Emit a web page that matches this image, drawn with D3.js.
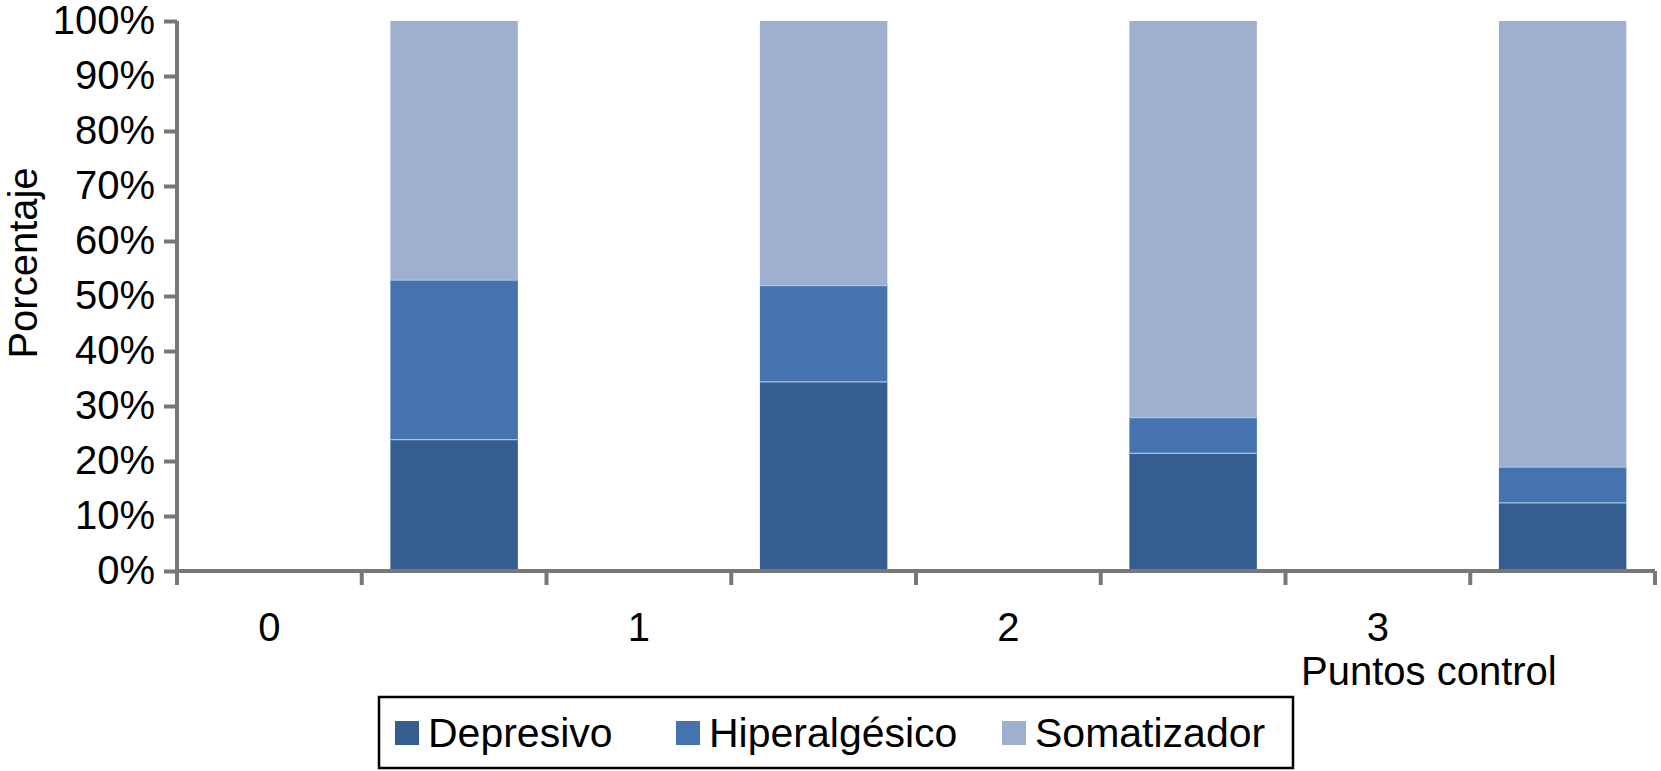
<!DOCTYPE html>
<html>
<head>
<meta charset="utf-8">
<script src="https://cdn.jsdelivr.net/npm/d3@7"></script>
<style>
  body { margin: 0; background: #fff; }
  text { font-family: "Liberation Sans", Arial, sans-serif; fill: #000; }
</style>
</head>
<body>
<div id="wrapper"></div>
<script>
// data
const puntos = ["0", "1", "2", "3"]
const depresivo = [24, 34.5, 21.5, 12.5]
const hiperalgesico = [29, 17.5, 6.5, 6.5]
const somatizador = [47, 48, 72, 81]
const seriesNames = ["Depresivo", "Hiperalgésico", "Somatizador"]
const seriesColors = ["#365d8f", "#4473b0", "#9eafd0"]
const yTicks = [0, 10, 20, 30, 40, 50, 60, 70, 80, 90, 100]

function drawChart() {
    const width = 1661
    const height = 771
    let dimensions = {
      width: width,
      height: height,
      margin: { top: 21, right: 6, bottom: 200, left: 177 },
    }
    dimensions.boundedWidth = dimensions.width - dimensions.margin.left - dimensions.margin.right
    dimensions.boundedHeight = dimensions.height - dimensions.margin.top - dimensions.margin.bottom

    const wrapper = d3.select("#wrapper")
        .append("svg")
        .attr("width", dimensions.width)
        .attr("height", dimensions.height)

    const bounds = wrapper.append("g")
        .attr("transform", `translate(${dimensions.margin.left},${dimensions.margin.top})`)

    // each punto takes two slots: label slot, then bar slot
    const xScaler = d3.scaleBand()
        .domain(d3.range(puntos.length * 2))
        .range([0, dimensions.boundedWidth])
        .padding(0)

    const yScaler = d3.scaleLinear()
        .domain([0, 100])
        .range([dimensions.boundedHeight, 0])

    const table = puntos.map((p, i) => ({
        punto: p,
        Depresivo: depresivo[i],
        "Hiperalgésico": hiperalgesico[i],
        Somatizador: somatizador[i],
    }))
    const stacked = d3.stack().keys(seriesNames)(table)

    const barW = xScaler.bandwidth() * 0.69
    const barX = i => xScaler(i * 2 + 1) + (xScaler.bandwidth() - barW) / 2

    const layers = bounds.append("g").selectAll("g")
        .data(stacked)
        .enter()
        .append("g")
        .attr("fill", (d, i) => seriesColors[i])

    layers.selectAll("rect")
        .data(d => d)
        .enter()
        .append("rect")
        .attr("x", (d, i) => barX(i))
        .attr("y", d => yScaler(d[1]))
        .attr("width", barW)
        .attr("height", d => yScaler(d[0]) - yScaler(d[1]))

    // thin light edge on top of segments
    layers.selectAll("line")
        .data(d => d)
        .enter()
        .append("line")
        .attr("x1", (d, i) => barX(i))
        .attr("x2", (d, i) => barX(i) + barW)
        .attr("y1", d => yScaler(d[1]) + 0.5)
        .attr("y2", d => yScaler(d[1]) + 0.5)
        .attr("stroke", "#a9c3ea")
        .attr("stroke-width", 1.5)
        .attr("opacity", d => d[1] >= 100 ? 0 : 1)

    // y axis
    const yAxis = d3.axisLeft(yScaler)
        .tickValues(yTicks)
        .tickFormat(d => d + "%")
        .tickSize(13)
        .tickPadding(9)
    const yAxisG = bounds.append("g").call(yAxis)
    yAxisG.select(".domain").attr("stroke", "#777").attr("stroke-width", 4)
        .attr("d", `M0,${yScaler(100)}V${yScaler(0)}`)
    yAxisG.selectAll(".tick line").attr("stroke", "#777").attr("stroke-width", 4)
    yAxisG.selectAll(".tick text").attr("font-size", 40).attr("fill", "#000")
        .attr("font-family", "Liberation Sans, Arial, sans-serif")

    // x axis: ticks at slot boundaries
    const boundaries = d3.range(puntos.length * 2 + 1).map(i => i * xScaler.step())
    const xAxisG = bounds.append("g")
        .attr("transform", `translate(0,${dimensions.boundedHeight})`)
    xAxisG.append("line")
        .attr("x1", 0).attr("x2", dimensions.boundedWidth)
        .attr("stroke", "#777").attr("stroke-width", 4)
    xAxisG.selectAll(".xtick")
        .data(boundaries)
        .enter()
        .append("line")
        .attr("class", "xtick")
        .attr("x1", d => d).attr("x2", d => d)
        .attr("y1", 0).attr("y2", 14)
        .attr("stroke", "#777").attr("stroke-width", 4)
    xAxisG.selectAll(".xlabel")
        .data(puntos)
        .enter()
        .append("text")
        .attr("class", "xlabel")
        .attr("x", (d, i) => xScaler(i * 2) + xScaler.bandwidth() / 2)
        .attr("y", 70)
        .attr("text-anchor", "middle")
        .attr("font-size", 40)
        .text(d => d)

    // axis titles
    wrapper.append("text")
        .attr("transform", "translate(37,263) rotate(-90)")
        .attr("text-anchor", "middle")
        .attr("font-size", 40)
        .text("Porcentaje")

    wrapper.append("text")
        .attr("x", 1301)
        .attr("y", 685)
        .attr("font-size", 40)
        .text("Puntos control")

    // legend
    const legend = wrapper.append("g")
    legend.append("rect")
        .attr("x", 379).attr("y", 697)
        .attr("width", 914).attr("height", 71)
        .attr("fill", "none").attr("stroke", "#000").attr("stroke-width", 2.5)
    const legendX = [395, 676, 1002]
    const items = legend.selectAll(".item")
        .data(seriesNames)
        .enter()
        .append("g")
        .attr("class", "item")
        .attr("transform", (d, i) => `translate(${legendX[i]},0)`)
    items.append("rect")
        .attr("x", 0).attr("y", 721)
        .attr("width", 24).attr("height", 24)
        .attr("fill", (d, i) => seriesColors[i])
    items.append("text")
        .attr("x", 33).attr("y", 747)
        .attr("font-size", 41)
        .text(d => d)
}

drawChart()
</script>
</body>
</html>
